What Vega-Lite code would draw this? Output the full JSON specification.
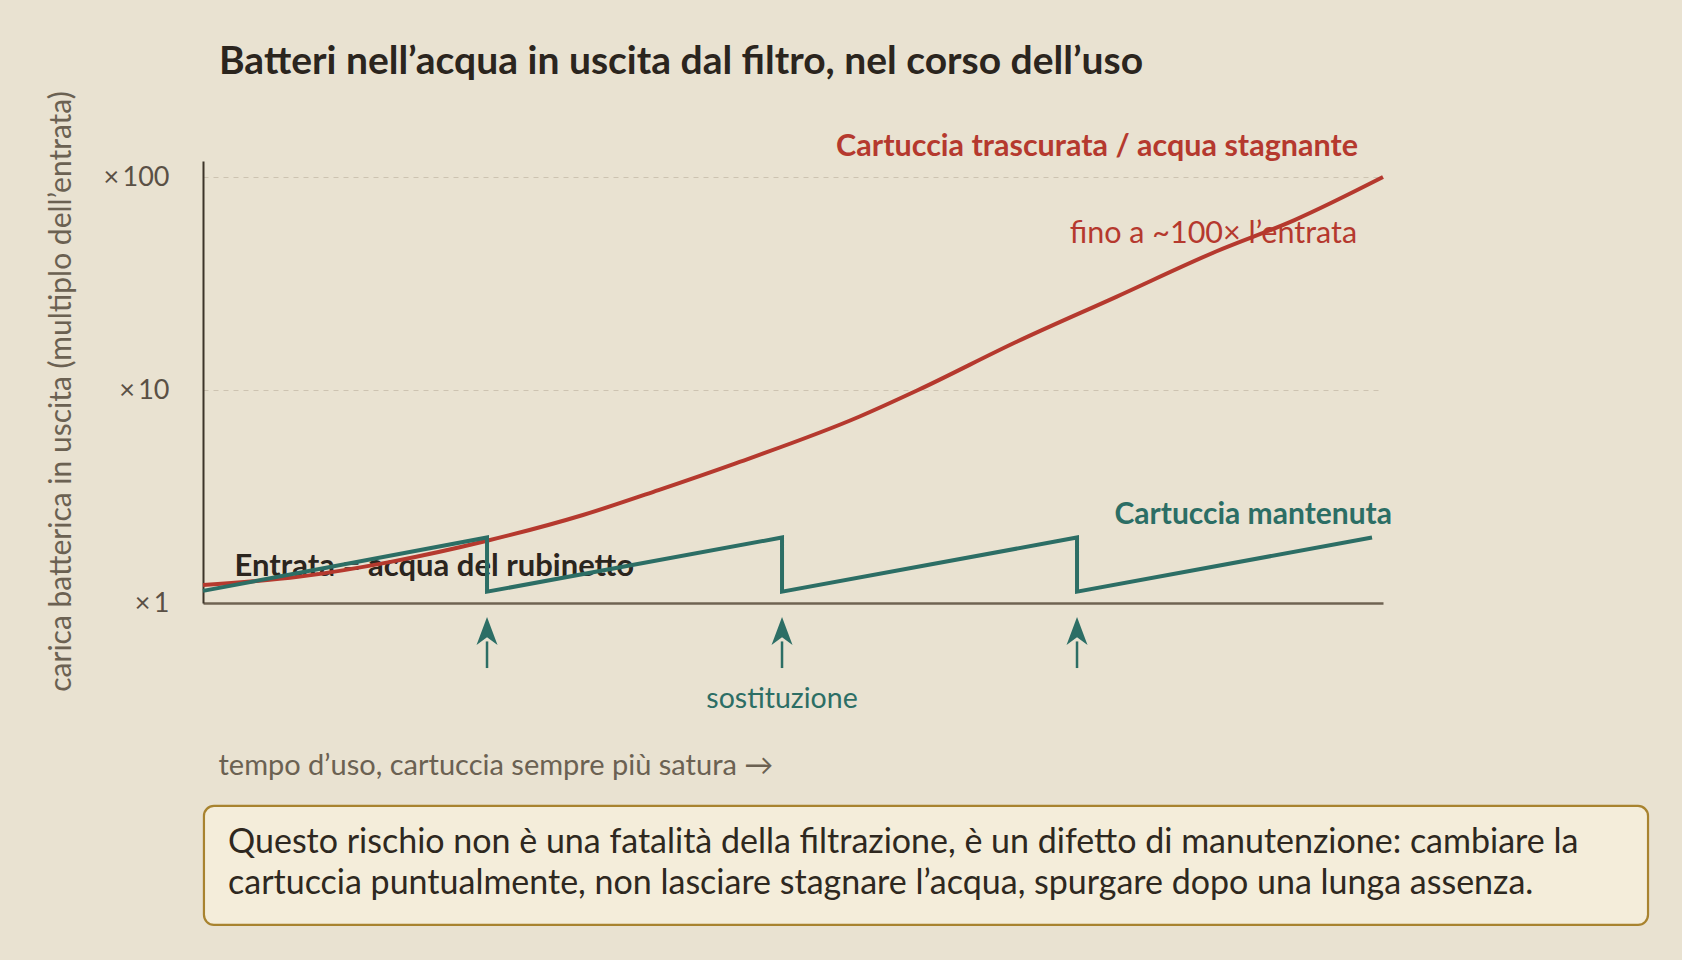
{
  "$schema": "https://vega.github.io/schema/vega-lite/v6.json",
  "width": 1180,
  "height": 442,
  "autosize": {"type": "none"},
  "padding": {"left": 203, "top": 161, "right": 299, "bottom": 357},
  "background": "#e9e2d1",
  "config": {"font": "Lato", "view": {"stroke": null}},
  "title": {
    "text": "Batteri nell’acqua in uscita dal filtro, nel corso dell’uso",
    "anchor": "start",
    "frame": "group",
    "dx": 16,
    "offset": 9,
    "fontSize": 39,
    "fontWeight": "bold",
    "color": "#2b251e"
  },
  "datasets": {
    "curves": [
      {"t": 0, "load": 1.215, "series": "trascurata"},
      {"t": 8.2, "load": 1.33, "series": "trascurata"},
      {"t": 15.9, "load": 1.56, "series": "trascurata"},
      {"t": 24.07, "load": 1.96, "series": "trascurata"},
      {"t": 32.2, "load": 2.59, "series": "trascurata"},
      {"t": 38.6, "load": 3.39, "series": "trascurata"},
      {"t": 45.2, "load": 4.54, "series": "trascurata"},
      {"t": 55.6, "load": 7.49, "series": "trascurata"},
      {"t": 60.6, "load": 10.0, "series": "trascurata"},
      {"t": 69.0, "load": 16.9, "series": "trascurata"},
      {"t": 77.4, "load": 27.4, "series": "trascurata"},
      {"t": 85.8, "load": 44.6, "series": "trascurata"},
      {"t": 92.5, "load": 62.8, "series": "trascurata"},
      {"t": 100, "load": 100, "series": "trascurata"}
    ],
    "maintained": [
      {"t": 0, "load": 1.14, "step": 1},
      {"t": 24.07, "load": 2.03, "step": 2},
      {"t": 24.07, "load": 1.13, "step": 3},
      {"t": 49.07, "load": 2.03, "step": 4},
      {"t": 49.07, "load": 1.13, "step": 5},
      {"t": 74.07, "load": 2.03, "step": 6},
      {"t": 74.07, "load": 1.13, "step": 7},
      {"t": 99.07, "load": 2.03, "step": 8}
    ],
    "replacements": [
      {"t": 24.07, "base": 0.495, "top": 0.66, "head": 0.739},
      {"t": 49.07, "base": 0.495, "top": 0.66, "head": 0.739},
      {"t": 74.07, "base": 0.495, "top": 0.66, "head": 0.739}
    ],
    "labels": [
      {"t": 97.88, "load": 138, "text": "Cartuccia trascurata / acqua stagnante", "kind": "red-bold"},
      {"t": 97.8, "load": 54, "text": "fino a ~100× l’entrata", "kind": "red"},
      {"t": 100.76, "load": 2.59, "text": "Cartuccia mantenuta", "kind": "green-bold"},
      {"t": 49.07, "load": 0.354, "text": "sostituzione", "kind": "green"}
    ],
    "baselineLabel": [
      {"t": 2.67, "load": 1.476, "text": "Entrata = acqua del rubinetto"}
    ],
    "note": [
      {"t": 0.08, "t2": 122.46, "load": 0.1114, "load2": 0.0308}
    ],
    "noteText": [
      {"t": 2.12, "load": 0.0747, "text": "Questo rischio non è una fatalità della filtrazione, è un difetto di manutenzione: cambiare la"},
      {"t": 2.12, "load": 0.0479, "text": "cartuccia puntualmente, non lasciare stagnare l’acqua, spurgare dopo una lunga assenza."}
    ]
  },
  "encoding": {
    "x": {
      "field": "t",
      "type": "quantitative",
      "scale": {"domain": [0, 100], "nice": false, "zero": false},
      "axis": {
        "title": "tempo d’uso, cartuccia sempre più satura →",
        "labels": false,
        "ticks": false,
        "grid": false,
        "domainColor": "#6f6352",
        "domainWidth": 2.5,
        "titleX": 15,
        "titleY": 162,
        "titleAnchor": "start",
        "titleAlign": "left",
        "titleBaseline": "middle",
        "titleFontSize": 29,
        "titleFontWeight": "normal",
        "titleColor": "#6b6152"
      }
    },
    "y": {
      "field": "load",
      "type": "quantitative",
      "scale": {"type": "log", "domain": [1, 119], "nice": false},
      "axis": {
        "title": "carica batterica in uscita (multiplo dell’entrata)",
        "values": [1, 10, 100],
        "labelExpr": "'×\u2009' + datum.value",
        "ticks": false,
        "labelPadding": 34,
        "labelFontSize": 27,
        "labelColor": "#5a5045",
        "domainColor": "#3d3429",
        "domainWidth": 2,
        "grid": true,
        "gridColor": "#cdc3b1",
        "gridDash": [5, 5],
        "gridWidth": 1.2,
        "titleFontSize": 30,
        "titleFontWeight": "normal",
        "titleColor": "#6b6152",
        "titleAngle": -90,
        "titleX": -142,
        "titleY": 230,
        "titleAlign": "center",
        "titleBaseline": "middle"
      }
    }
  },
  "layer": [
    {
      "data": {"name": "note"},
      "mark": {"type": "rect", "fill": "#f4edda", "stroke": "#a8832f", "strokeWidth": 2.2, "cornerRadius": 10},
      "encoding": {"x2": {"field": "t2"}, "y2": {"field": "load2"}}
    },
    {
      "data": {"name": "noteText"},
      "mark": {"type": "text", "align": "left", "baseline": "middle", "fontSize": 34, "color": "#2e2820"},
      "encoding": {"text": {"field": "text"}}
    },
    {
      "data": {"name": "baselineLabel"},
      "mark": {"type": "text", "align": "left", "baseline": "middle", "fontSize": 31, "fontWeight": "bold", "color": "#2b251e"},
      "encoding": {"text": {"field": "text"}}
    },
    {
      "mark": {"type": "rule", "color": "#3d3429", "strokeWidth": 2.5, "strokeDash": [8, 5]},
      "encoding": {"y": {"datum": 1}, "x": null}
    },
    {
      "data": {"name": "curves"},
      "mark": {"type": "line", "color": "#b5392e", "strokeWidth": 4, "interpolate": "monotone"}
    },
    {
      "data": {"name": "maintained"},
      "mark": {"type": "line", "color": "#2c6e65", "strokeWidth": 4, "strokeJoin": "miter"},
      "encoding": {"order": {"field": "step", "type": "quantitative"}}
    },
    {
      "data": {"name": "replacements"},
      "mark": {"type": "rule", "color": "#2c6e65", "strokeWidth": 2.5},
      "encoding": {"y": {"field": "base"}, "y2": {"field": "top"}}
    },
    {
      "data": {"name": "replacements"},
      "mark": {"type": "point", "shape": "M0,-1L0.75,1L0,0.45L-0.75,1Z", "size": 784, "filled": true, "color": "#2c6e65", "opacity": 1},
      "encoding": {"y": {"field": "head"}}
    },
    {
      "data": {"name": "labels"},
      "transform": [{"filter": "datum.kind === 'red-bold'"}],
      "mark": {"type": "text", "align": "right", "baseline": "middle", "fontSize": 30.5, "fontWeight": "bold", "color": "#b5392e"},
      "encoding": {"text": {"field": "text"}}
    },
    {
      "data": {"name": "labels"},
      "transform": [{"filter": "datum.kind === 'red'"}],
      "mark": {"type": "text", "align": "right", "baseline": "middle", "fontSize": 30.5, "color": "#b5392e"},
      "encoding": {"text": {"field": "text"}}
    },
    {
      "data": {"name": "labels"},
      "transform": [{"filter": "datum.kind === 'green-bold'"}],
      "mark": {"type": "text", "align": "right", "baseline": "middle", "fontSize": 30, "fontWeight": "bold", "color": "#2c6e65"},
      "encoding": {"text": {"field": "text"}}
    },
    {
      "data": {"name": "labels"},
      "transform": [{"filter": "datum.kind === 'green'"}],
      "mark": {"type": "text", "align": "center", "baseline": "middle", "fontSize": 28.5, "color": "#2c6e65"},
      "encoding": {"text": {"field": "text"}}
    }
  ]
}
